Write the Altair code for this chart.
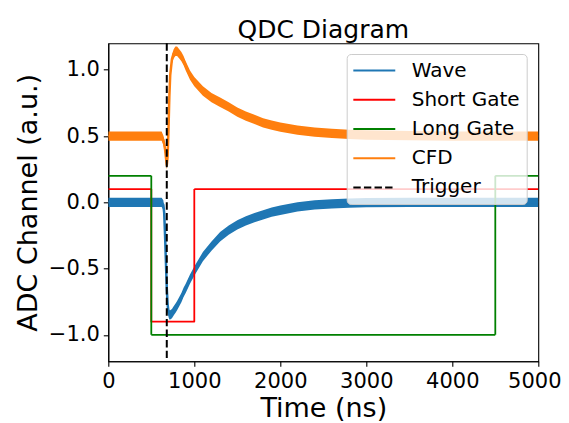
import altair as alt
import pandas as pd

# ---- data ----
series_names = ["Wave", "Short Gate", "Long Gate", "CFD", "Trigger"]
series_colors = ["#1f77b4", "#ff0000", "#008000", "#ff7f0e", "#000000"]

t_ns = [0, 100, 200, 300, 400, 500, 600, 620, 640, 650, 660, 670, 680, 690,
        700, 710, 720, 740, 760, 780, 800, 825, 850, 875, 900, 950, 1000,
        1100, 1200, 1300, 1400, 1500, 1600, 1700, 1800, 1900, 2000, 2200,
        2400, 2600, 2800, 3000, 3500, 4000, 4500, 5000]

wave = [0.0, 0.0, 0.0, 0.0, 0.0, 0.0, 0.0, 0.0, -0.02, -0.08, -0.25, -0.45,
        -0.65, -0.77, -0.83, -0.85, -0.85, -0.84, -0.82, -0.80, -0.78, -0.75,
        -0.72, -0.68, -0.65, -0.58, -0.52, -0.41, -0.33, -0.26, -0.21, -0.17,
        -0.14, -0.115, -0.095, -0.075, -0.06, -0.035, -0.02, -0.012, -0.006,
        -0.003, 0.0, 0.0, 0.0, 0.0]

cfd = [0.5, 0.5, 0.5, 0.5, 0.5, 0.5, 0.5, 0.5, 0.47, 0.44, 0.40, 0.34, 0.28,
       0.35, 0.55, 0.80, 0.96, 1.08, 1.12, 1.14, 1.14, 1.12, 1.10, 1.07, 1.03,
       0.96, 0.91, 0.84, 0.79, 0.755, 0.72, 0.68, 0.65, 0.625, 0.60, 0.583,
       0.568, 0.545, 0.53, 0.52, 0.513, 0.508, 0.503, 0.5, 0.5, 0.5]

short_t = [0, 500, 1000, 5000]
short_v = [0.1, -0.9, 0.1, 0.1]
long_t = [0, 500, 4500, 5000]
long_v = [0.2, -1.0, 0.2, 0.2]
trigger_t = [680]

x_ticks = [0, 1000, 2000, 3000, 4000, 5000]
y_ticks = [-1.0, -0.5, 0.0, 0.5, 1.0]

NOISE_HALF = 0.035  # half thickness of the noisy trace band (style)

wave_df = pd.DataFrame({"t": t_ns, "v": wave, "series": "Wave"})
cfd_df = pd.DataFrame({"t": t_ns, "v": cfd, "series": "CFD"})
short_df = pd.DataFrame({"t": short_t, "v": short_v, "series": "Short Gate"})
long_df = pd.DataFrame({"t": long_t, "v": long_v, "series": "Long Gate"})
trig_df = pd.DataFrame({"t": trigger_t, "series": "Trigger"})

x_scale = alt.Scale(domain=[0, 5000], nice=False)
y_scale = alt.Scale(domain=[-1.2, 1.2], nice=False, zero=False)
x_axis = alt.Axis(values=x_ticks, format="d", labelFlush=False,
                  labelOverlap=False,
                  labelOffset={"condition": {"test": "datum.value >= 5000",
                                             "value": -4},
                               "value": 0})
y_axis = alt.Axis(values=y_ticks, format=".1f", labelFlush=False,
                  labelOverlap=False,
                  labelExpr="replace(datum.label, '-', '\u2212')")


def X(field="t:Q"):
    return alt.X(field, scale=x_scale, axis=x_axis, title="Time (ns)")


def Y(field="v:Q"):
    return alt.Y(field, scale=y_scale, axis=y_axis, title="ADC Channel (a.u.)")


color = alt.Color("series:N",
                  scale=alt.Scale(domain=series_names, range=series_colors),
                  legend=alt.Legend(title=None))
dash = alt.StrokeDash("series:N",
                      scale=alt.Scale(domain=series_names,
                                      range=[[1, 0], [1, 0], [1, 0], [1, 0], [7.4, 3.2]]),
                      legend=alt.Legend(title=None))


def band(df, col):
    return (alt.Chart(df)
            .transform_calculate(lo=f"datum.v - {NOISE_HALF}",
                                 hi=f"datum.v + {NOISE_HALF}")
            .mark_area(color=col, opacity=1, clip=True)
            .encode(x=X(), y=Y("lo:Q"), y2="hi:Q"))


def trace(df, width=2.5, interp="linear"):
    return (alt.Chart(df)
            .mark_line(strokeWidth=width, interpolate=interp, clip=True,
                       strokeJoin="round")
            .encode(x=X(), y=Y(), color=color, strokeDash=dash))


wave_band = band(wave_df, "#1f77b4")
wave_line = trace(wave_df, 2.5)
short_line = trace(short_df, 1.8, "step-after")
long_line = trace(long_df, 1.8, "step-after")
cfd_band = band(cfd_df, "#ff7f0e")
cfd_line = trace(cfd_df, 2.5)
trig = (alt.Chart(trig_df)
        .mark_rule(strokeWidth=2)
        .encode(x=X(), color=color, strokeDash=dash))

chart = (alt.layer(wave_band, wave_line, short_line, long_line,
                   cfd_band, cfd_line, trig)
         .properties(
             width=430, height=318,
             title=alt.TitleParams("QDC Diagram", fontSize=25,
                                   fontWeight="normal", color="black",
                                   anchor="middle", frame="group",
                                   offset=-20.5, baseline="alphabetic"),
             autosize=alt.AutoSizeParams(type="none"),
             padding={"left": 100.3, "top": 35.3, "right": 22.5, "bottom": 61},
         )
         .configure(font="DejaVu Sans")
         .configure_view(stroke="black", strokeWidth=1.1)
         .configure_axis(labelFontSize=21, titleFontSize=27,
                         labelColor="black", titleColor="black",
                         tickColor="black", domainColor="black",
                         grid=False, titleFontWeight="normal",
                         tickSize=5, tickWidth=1.1, domainWidth=1.1,
                         labelFont="DejaVu Sans", titleFont="DejaVu Sans")
         .configure_axisX(labelPadding=4, titleY=55.5,
                          titleBaseline="alphabetic")
         .configure_axisY(labelPadding=4, titleX=-72, titleY=159,
                          titleBaseline="alphabetic", titleAlign="center")
         .configure_legend(orient="none", legendX=238.4, legendY=10.7,
                           padding=6.6, fillColor="rgba(255,255,255,0.8)",
                           strokeColor="#cccccc", cornerRadius=4,
                           labelFontSize=20, labelFont="DejaVu Sans",
                           labelColor="black", symbolType="M-2.33,0H2.33",
                           symbolSize=324, symbolStrokeWidth=2,
                           symbolOffset=11,
                           labelOffset=27.4, rowPadding=9.2, labelLimit=300)
         )

chart.save("out.html", embed_options={"renderer": "svg", "actions": False})
